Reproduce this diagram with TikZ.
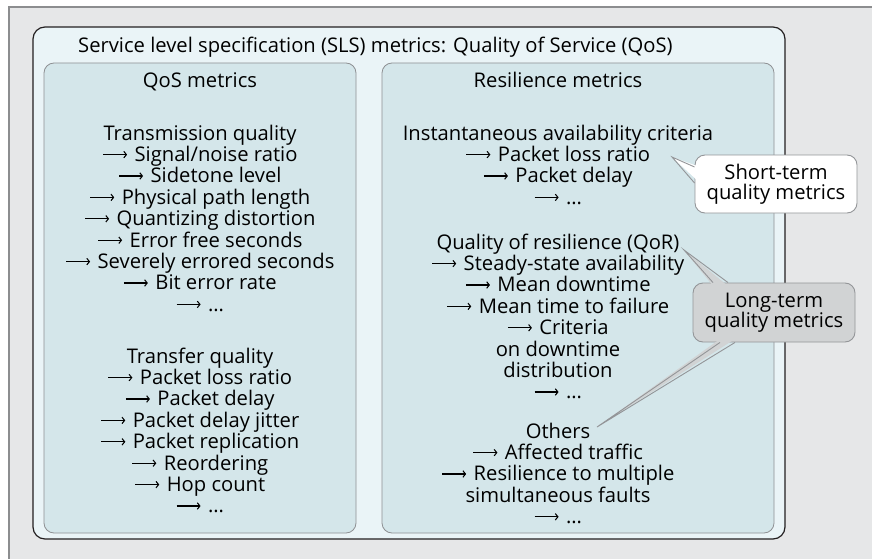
\documentclass[tikz,border=0pt]{standalone}
\usepackage{fontspec}
\setmainfont{Open Sans}
\usetikzlibrary{arrows.meta}

\definecolor{frameback}{HTML}{E6E7E8}
\definecolor{frameline}{HTML}{8C8D8F}
\definecolor{slsfill}{HTML}{EAF4F7}
\definecolor{slsline}{HTML}{231F20}
\definecolor{colfill}{HTML}{D4E6EA}
\definecolor{colline}{HTML}{8E9093}
\definecolor{notegray}{HTML}{D1D3D4}
\definecolor{noteline}{HTML}{939598}

% thin long arrow used in front of each metric
\newcommand{\arr}{\tikz[baseline=0pt]\draw[line width=1.05pt,-{Straight Barb[length=2.6pt,width=6.5pt]}] (0pt,6.8pt) -- (24pt,6.8pt);\hspace{7pt}}

\begin{document}
\begin{tikzpicture}[x=1pt,y=-1pt,
  txt/.style={font=\fontsize{20.2}{21.4}\selectfont, inner sep=0pt, anchor=base, text=black},
  note/.style={font=\fontsize{20.2}{21.4}\selectfont, align=center, rounded corners=10pt,
    minimum width=162pt, inner sep=0pt},
  tail/.style={line width=0.9pt, line join=miter}]
\useasboundingbox (0,0) rectangle (872,559);

% outer grey frame with lines on top and left
\fill[frameback] (9,7) rectangle (872,559);
\draw[frameline, line width=1.3pt] (9,559) -- (9,7) -- (872,7);

% SLS container
\draw[fill=slsfill, draw=slsline, line width=1.2pt, rounded corners=12pt] (33,27) rectangle (785,539);
\node[txt, anchor=base west] (title) at (78,52.5) {Service level specification (SLS) metrics: Quality of Service (QoS)};

% two columns
\draw[fill=colfill, draw=colline, line width=0.8pt, rounded corners=10pt] (44,63) rectangle (356,533);
\draw[fill=colfill, draw=colline, line width=0.8pt, rounded corners=10pt] (382,63) rectangle (774,533);
\node[txt] (qosh) at (200,88) {QoS metrics};
\node[txt] (resh) at (558,88) {Resilience metrics};

% QoS metrics: transmission quality
\foreach \t [count=\i from 0] in {Transmission quality, \arr Signal/noise ratio, \arr Sidetone level,
  \arr Physical path length, \arr Quantizing distortion, \arr Error free seconds,
  \arr Severely errored seconds, \arr Bit error rate, \arr \dots}
  \node[txt] (tq\i) at (200,140+21.4*\i) {\t};

% QoS metrics: transfer quality
\foreach \t [count=\i from 0] in {Transfer quality, \arr Packet loss ratio, \arr Packet delay,
  \arr Packet delay jitter, \arr Packet replication, \arr Reordering, \arr Hop count, \arr \dots}
  \node[txt] (fq\i) at (200,363+21.4*\i) {\t};

% Resilience metrics: instantaneous availability
\foreach \t [count=\i from 0] in {Instantaneous availability criteria, \arr Packet loss ratio,
  \arr Packet delay, \arr \dots}
  \node[txt] (ia\i) at (558,140+21.4*\i) {\t};

% Resilience metrics: quality of resilience
\foreach \t [count=\i from 0] in {Quality of resilience (QoR), \arr Steady-state availability,
  \arr Mean downtime, \arr Mean time to failure, \arr Criteria, on downtime, distribution, \arr \dots}
  \node[txt] (qr\i) at (558,249+21.4*\i) {\t};

% Resilience metrics: others
\foreach \t [count=\i from 0] in {Others, \arr Affected traffic, \arr Resilience to multiple,
  simultaneous faults, \arr \dots}
  \node[txt] (ot\i) at (558,438+21.4*\i) {\t};

% short-term callout
\node[note, fill=white, draw=noteline, line width=0.9pt, minimum height=58pt] (short) at (776,184)
  {Short-term\\[-1.5pt]quality metrics};
\coordinate (stip) at (672,157);
\fill[white] (700,167) -- (stip) -- (700,183) -- cycle;
\draw[tail, noteline] (short.west |- 0,167) -- (stip) -- (short.west |- 0,183);

% long-term callout with two tails
\node[note, fill=notegray, draw=noteline, line width=0.9pt, minimum height=59pt] (long) at (774,312.5)
  {Long-term\\[-1.5pt]quality metrics};
\coordinate (ltipA) at (684,250);
\coordinate (ltipB) at (597,427);
\fill[notegray] (713,286) -- (ltipA) -- (728,286) -- cycle;
\draw[tail, noteline] (713,0 |- long.north) -- (ltipA) -- (728,0 |- long.north);
\fill[notegray] (720,339) -- (ltipB) -- (735,339) -- cycle;
\draw[tail, noteline] (720,0 |- long.south) -- (ltipB) -- (735,0 |- long.south);
\end{tikzpicture}
\end{document}
